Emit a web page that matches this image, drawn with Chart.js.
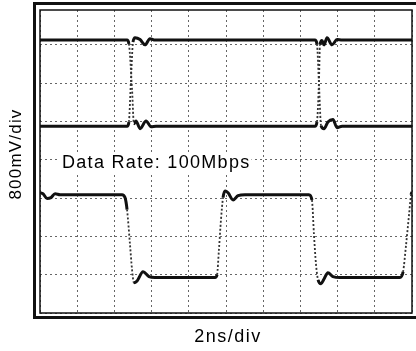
<!DOCTYPE html>
<html>
<head>
<meta charset="utf-8">
<script src="https://cdn.jsdelivr.net/npm/chart.js@4.4.1/dist/chart.umd.min.js"></script>
<style>
  html, body { margin: 0; padding: 0; background: #fff; }
  #wrap { width: 416px; height: 351px; }
</style>
</head>
<body>
<div id="wrap"><canvas id="scope" width="416" height="351"></canvas></div>
<script>
// Scope capture: 2 ns/div horizontally, 800 mV/div vertically, 100 Mbps data.
const X_TITLE = '2ns/div';
const Y_TITLE = '800mV/div';
const NOTE = 'Data Rate: 100Mbps';

const NS_PER_DIV = 2;
const V_PER_DIV = 0.8;
const xGridDivs = [0, 1, 2, 3, 4, 5, 6, 7, 8, 9, 10];
const yGridDivs = [-4, -3, -2, -1, 0, 1, 2, 3];

// Input, positive leg (ns, V)
const tInP = [0, 4.68, 4.78, 4.95, 5.05, 5.16, 5.38, 5.70, 5.97, 6.24,
              14.78, 14.89, 15.00, 15.05, 15.16, 15.27, 15.43, 15.70, 15.97, 16.24, 20];
const vInP = [2.50, 2.50, 2.42, 1.46, 0.75, 0.81, 0.65, 0.81, 0.69, 0.70,
              0.70, 0.79, 1.67, 2.40, 2.49, 2.40, 2.55, 2.40, 2.51, 2.50, 2.50];

// Input, negative leg (ns, V)
const tInN = [0, 4.68, 4.78, 4.89, 5.00, 5.11, 5.38, 5.65, 5.91, 6.18,
              14.78, 14.89, 15.00, 15.11, 15.27, 15.48, 15.75, 15.97, 16.24, 20];
const vInN = [0.70, 0.70, 0.79, 1.67, 2.46, 2.55, 2.51, 2.40, 2.53, 2.50,
              2.50, 2.42, 1.57, 0.71, 0.65, 0.79, 0.84, 0.67, 0.70, 0.70];

// Output (ns, V)
const tOut = [0, 0.16, 0.38, 0.59, 0.81, 1.08, 4.41, 4.57, 4.68, 4.84, 4.95, 5.05, 5.22, 5.54, 5.86, 6.18,
              9.41, 9.52, 9.62, 9.73, 9.84, 9.95, 10.11, 10.38, 10.65, 11.02,
              14.46, 14.62, 14.73, 14.84, 14.95, 15.11, 15.27, 15.48, 15.75, 16.13,
              19.35, 19.52, 19.68, 19.84, 19.95, 20.0];
const vOut = [-0.69, -0.71, -0.81, -0.79, -0.71, -0.73, -0.73, -0.79, -1.04, -1.78, -2.30, -2.57, -2.53, -2.34, -2.44, -2.46,
              -2.46, -2.40, -1.88, -1.25, -0.79, -0.65, -0.69, -0.84, -0.75, -0.73,
              -0.73, -0.84, -1.57, -2.19, -2.51, -2.59, -2.49, -2.36, -2.44, -2.46,
              -2.46, -2.34, -1.78, -1.15, -0.73, -0.67];

const pts = (ts, vs) => ts.map((t, i) => ({ x: t, y: vs[i] }));

// Fast edges leave a faint, broken trace on the phosphor
const isEdge = ctx => {
  const a = ctx.p0.parsed, b = ctx.p1.parsed;
  return Math.abs((b.y - a.y) / (b.x - a.x)) > 2.5;
};

const trace = (label, data) => ({
  label,
  data,
  borderColor: '#111',
  borderWidth: 3,
  pointRadius: 0,
  cubicInterpolationMode: 'monotone',
  segment: {
    borderDash: ctx => isEdge(ctx) ? [2, 2] : undefined,
    borderWidth: ctx => isEdge(ctx) ? 1.8 : undefined,
    borderColor: ctx => isEdge(ctx) ? '#333' : undefined
  }
});

const FAMILY = '"Liberation Sans", Arial, sans-serif';

const scopeDecor = {
  id: 'scopeDecor',
  afterDatasetsDraw(chart) {
    const { ctx, chartArea: a } = chart;
    ctx.save();
    // inner graticule frame
    ctx.strokeStyle = '#111';
    ctx.lineWidth = 1.5;
    ctx.strokeRect(a.left, a.top, a.right - a.left, a.bottom - a.top);
    // outer bezel
    ctx.lineWidth = 3;
    ctx.strokeRect(34.5, 3.5, 383, 314);

    // data-rate note on the centre line
    ctx.font = '18px ' + FAMILY;
    ctx.letterSpacing = '1.3px';
    ctx.textBaseline = 'middle';
    const w = ctx.measureText(NOTE).width;
    const nx = 62, ny = 163;
    ctx.fillStyle = '#fff';
    ctx.fillRect(nx - 3, ny - 10, w + 4, 21);
    ctx.fillStyle = '#000';
    ctx.textAlign = 'left';
    ctx.fillText(NOTE, nx, ny);

    // axis captions
    ctx.textAlign = 'center';
    ctx.letterSpacing = '1.5px';
    ctx.fillText(X_TITLE, 228, 337);
    ctx.translate(16, 154);
    ctx.rotate(-Math.PI / 2);
    ctx.font = '17px ' + FAMILY;
    ctx.letterSpacing = '1.2px';
    ctx.fillText(Y_TITLE, 0, 0);
    ctx.restore();
  }
};

new Chart(document.getElementById('scope'), {
  type: 'line',
  data: {
    datasets: [
      trace('IN+', pts(tInP, vInP)),
      trace('IN−', pts(tInN, vInN)),
      trace('OUT', pts(tOut, vOut))
    ]
  },
  options: {
    responsive: false,
    animation: false,
    devicePixelRatio: 1,
    layout: { padding: { left: 40, right: 4, top: 10, bottom: 38 } },
    plugins: { legend: { display: false }, tooltip: { enabled: false } },
    scales: {
      x: {
        type: 'linear',
        min: xGridDivs[0] * NS_PER_DIV,
        max: xGridDivs[xGridDivs.length - 1] * NS_PER_DIV,
        afterBuildTicks: s => { s.ticks = xGridDivs.map(d => ({ value: d * NS_PER_DIV })); },
        ticks: { display: false },
        grid: { color: '#666', lineWidth: 1, drawTicks: false },
        border: { display: false, dash: [2, 3] }
      },
      y: {
        type: 'linear',
        min: -4 * V_PER_DIV,
        max: 3.91 * V_PER_DIV,
        afterBuildTicks: s => { s.ticks = yGridDivs.map(d => ({ value: d * V_PER_DIV })); },
        ticks: { display: false },
        grid: { color: '#666', lineWidth: 1, drawTicks: false },
        border: { display: false, dash: [2, 3] }
      }
    }
  },
  plugins: [scopeDecor]
});
</script>
</body>
</html>
